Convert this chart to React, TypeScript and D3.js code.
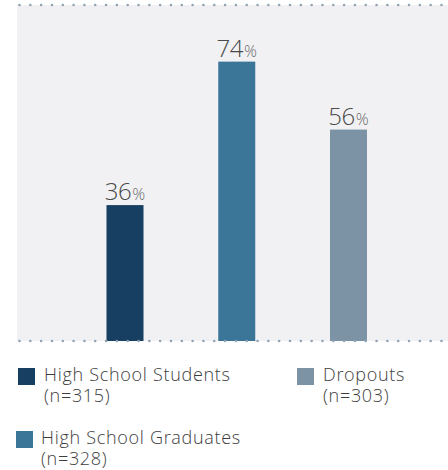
import React from "react";
import * as d3 from "d3";

const categories = ["High School Students", "High School Graduates", "Dropouts"];
const sampleSizes = ["(n=315)", "(n=328)", "(n=303)"];
const values = [36, 74, 56];
const colors = ["#173f62", "#3b7698", "#7b93a5"];

const W = 448;
const H = 470;
const panelLeft = 17;
const panelTop = 5;
const baseY = 341;
const barW = 37;
const font = "'Open Sans', Lato, sans-serif";

export default function App() {
  const x = d3.scalePoint<number>().domain([0, 1, 2]).range([125, 348.5]);
  const y = d3.scaleLinear().domain([0, 89]).range([baseY, panelTop]);
  const dotXs = d3.range(19.5, W, 10.82);

  const legendPos = [
    { sx: 18, sy: 368, tx: 44, ty: 381 },
    { sx: 16, sy: 431, tx: 41, ty: 444 },
    { sx: 297, sy: 368, tx: 323, ty: 381 },
  ];

  return (
    <svg
      width={W}
      height={H}
      style={{ position: "absolute", left: 0, top: 0, display: "block" }}
      fontFamily={font}
    >
      <rect x={0} y={0} width={W} height={H} fill="#ffffff" />
      <rect x={panelLeft} y={panelTop} width={W - panelLeft} height={baseY - panelTop} fill="#f1f1f4" />
      {values.map((v, i) => (
        <rect
          key={"b" + i}
          x={(x(i) as number) - barW / 2}
          y={y(v)}
          width={barW}
          height={baseY - y(v)}
          fill={colors[i]}
        />
      ))}
      {dotXs.map((dx, i) => (
        <circle key={"t" + i} cx={dx} cy={panelTop} r={1.3} fill="#8fa3b5" />
      ))}
      {dotXs.map((dx, i) => (
        <circle key={"d" + i} cx={dx} cy={baseY} r={1.3} fill="#8fa3b5" />
      ))}
      {values.map((v, i) => (
        <text
          key={"l" + i}
          x={x(i) as number}
          y={y(v) - 5}
          textAnchor="middle"
          fontWeight={300}
        >
          <tspan fontSize={24} fill="#4a4a4a" letterSpacing={-0.5}>{v}</tspan>
          <tspan fontSize={16} fill="#6a6a6a" dx={1}>%</tspan>
        </text>
      ))}
      {categories.map((c, i) => {
        const p = legendPos[i];
        return (
          <g key={"lg" + i}>
            <rect x={p.sx} y={p.sy} width={17} height={17} fill={colors[i]} />
            <text x={p.tx} y={p.ty} fontSize={18} fill="#3d3d3d" fontWeight={300} letterSpacing={0.7}>
              <tspan x={p.tx} y={p.ty}>{c}</tspan>
              <tspan x={p.tx} y={p.ty + 21}>{sampleSizes[i]}</tspan>
            </text>
          </g>
        );
      })}
    </svg>
  );
}
